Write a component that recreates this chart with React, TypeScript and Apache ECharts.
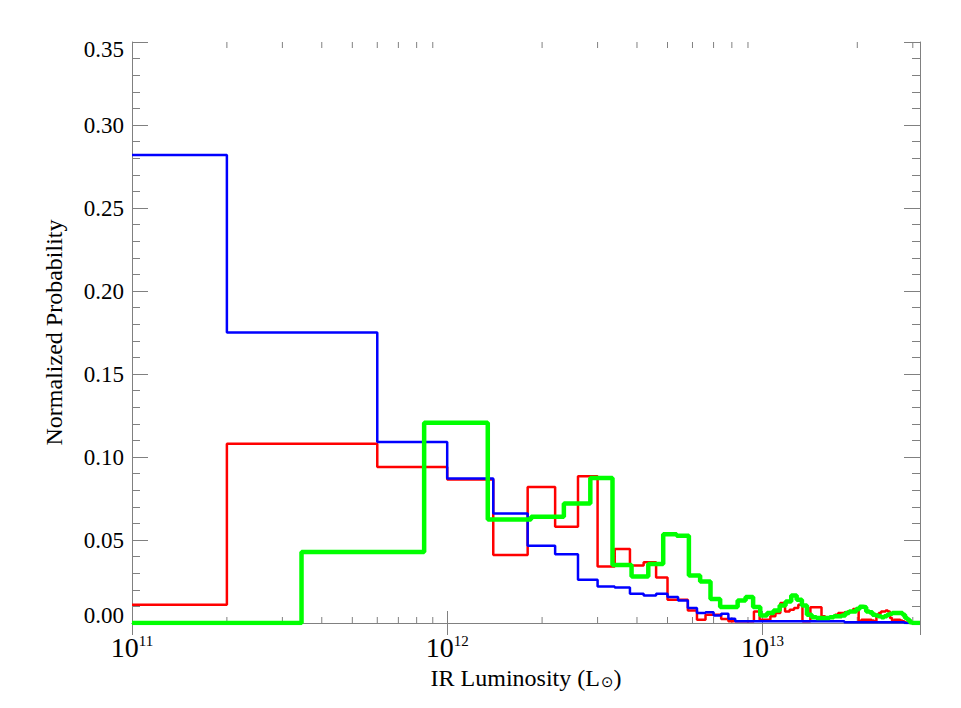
import React, { useEffect, useRef } from "react";
import * as echarts from "echarts";

// ---------- data ----------
const X_MIN = 1e11;
const X_MAX = Math.pow(10, 13.5);
const Y_MIN = 0;
const Y_MAX = 0.35;
const Y_INTERVAL = 0.05;

// red & blue histograms: linear bins of 0.4e12 starting at -0.2e12
const RB_BIN_START = -0.2e12;
const RB_BIN_WIDTH = 0.4e12;
// green histogram: linear bins of 0.5e12 starting at -0.155e12
const G_BIN_START = -0.155e12;
const G_BIN_WIDTH = 0.5e12;

const redValues = [
  0.011, 0.108, 0.094, 0.0864, 0.041, 0.082, 0.058, 0.0884, 0.034, 0.0446,
  0.0346, 0.0366, 0.0274, 0.014, 0.014, 0.0076, 0.002, 0.005, 0.005, 0.0024,
  0.001, 0.001, 0.001, 0.001, 0.007, 0.002, 0.002, 0.004, 0.006, 0.012,
  0.007, 0.008, 0.009, 0.011, 0.001, 0.001, 0.0095, 0.0095, 0.0095, 0.004,
  0.0035, 0.0035, 0.004, 0.005, 0.006, 0.006, 0.0065, 0.007, 0.007, 0.0084,
  0.008, 0.001, 0.002, 0.002, 0.002, 0.002, 0.0015, 0.001, 0.005, 0.006,
  0.007, 0.007, 0.0075, 0.007, 0.003, 0.001, 0.002, 0.002, 0.002, 0.0015,
  0.001, 0.0005, 0, 0, 0, 0, 0, 0, 0, 0,
];

const blueValues = [
  0.282, 0.175, 0.109, 0.087, 0.066, 0.0466, 0.0414, 0.026, 0.022, 0.0214,
  0.0176, 0.0166, 0.0176, 0.0156, 0.0136, 0.009, 0.006, 0.0065, 0.0045, 0.0055,
  0.0025, 0.001, 0.001, 0.001, 0.001, 0.001, 0.001, 0.001, 0.001, 0.001,
  0.001, 0.001, 0.001, 0.001, 0.001, 0.001, 0.001, 0.001, 0.001, 0.001,
  0.001, 0.001, 0.001, 0.001, 0.001, 0.001, 0.0005, 0.0005, 0.0005, 0.0005,
  0.0005, 0.0005, 0.0005, 0.0005, 0.0005, 0.0005, 0.0005, 0.0005, 0.0005, 0.0005,
  0.0005, 0.0005, 0.0005, 0.0005, 0.0005, 0.0005, 0.0005, 0.0005, 0.0005, 0.0005,
  0.0005, 0, 0, 0, 0, 0, 0, 0, 0, 0,
];

const greenValues = [
  0, 0.0428, 0.1206, 0.0624, 0.064, 0.072, 0.0874, 0.035, 0.028, 0.0356,
  0.0534, 0.0526, 0.0286, 0.025, 0.0144, 0.0096, 0.0096, 0.0136, 0.0156, 0.0096,
  0.0045, 0.006, 0.0075, 0.0105, 0.013, 0.0165, 0.014, 0.0105, 0.005, 0.0035,
  0.003, 0.003, 0.003, 0.0035, 0.004, 0.004, 0.0045, 0.006, 0.007, 0.007,
  0.0085, 0.0098, 0.0095, 0.007, 0.0065, 0.005, 0.0045, 0.004, 0.0035, 0.004,
  0.005, 0.0055, 0.006, 0.006, 0.006, 0.006, 0.005, 0.003, 0.002, 0.0005,
  0, 0, 0, 0,
];

const xTickExponents = [11, 12, 13];
const minorMultipliers = [2, 3, 4, 5, 6, 7, 8, 9];

const xAxisTitle = "IR Luminosity (L";
const sunSymbol = "\u2299";
const yAxisTitle = "Normalized Probability";

// ---------- style ----------
const AXIS_COLOR = "#808080";
const FONT = "'Liberation Serif', 'Times New Roman', serif";

function stepPoints(start: number, width: number, values: number[]) {
  const pts: number[][] = [];
  values.forEach((v, i) => {
    const lo = start + i * width;
    if (lo >= X_MAX) return;
    pts.push([Math.max(lo, X_MIN), v]);
  });
  const end = Math.min(start + values.length * width, X_MAX);
  pts.push([end, values[values.length - 1]]);
  return pts;
}

function minorTickValues() {
  const out: number[][] = [];
  xTickExponents.forEach((e) => {
    minorMultipliers.forEach((m) => {
      const v = m * Math.pow(10, e);
      if (v > X_MIN && v < X_MAX) out.push([v, 0]);
    });
  });
  return out;
}

export default function App() {
  const ref = useRef<HTMLDivElement>(null);

  useEffect(() => {
    if (!ref.current) return;
    const chart = echarts.init(ref.current, undefined, { renderer: "svg" });

    const yAxisCommon = {
      type: "value",
      min: Y_MIN,
      max: Y_MAX,
      interval: Y_INTERVAL,
      splitLine: { show: false },
      axisLine: { show: true, lineStyle: { color: AXIS_COLOR, width: 1 } },
      axisTick: { show: true, inside: true, length: 16, lineStyle: { color: AXIS_COLOR } },
      minorTick: { show: true, splitNumber: 5, length: 8, lineStyle: { color: AXIS_COLOR } },
    };

    const xAxisCommon = {
      type: "log",
      logBase: 10,
      min: X_MIN,
      max: X_MAX,
      splitLine: { show: false },
      minorTick: { show: false },
      axisLine: { show: true, lineStyle: { color: AXIS_COLOR, width: 1 } },
      axisTick: { show: true, inside: true, length: 12, lineStyle: { color: AXIS_COLOR } },
    };

    const option = {
      animation: false,
      grid: { left: 132, right: 41, top: 42, bottom: 85, show: false },
      xAxis: [
        {
          ...xAxisCommon,
          position: "bottom",
          name: `{n|${xAxisTitle}}{s|${sunSymbol}}{n|)}`,
          nameLocation: "middle",
          nameGap: 38,
          nameTextStyle: {
            rich: {
              n: { fontFamily: FONT, fontSize: 24, color: "#000", lineHeight: 26, verticalAlign: "bottom" },
              s: { fontFamily: "'DejaVu Sans', sans-serif", fontSize: 15, color: "#000", lineHeight: 15, verticalAlign: "bottom", padding: [0, 0, 0, 1] },
            },
          },
          axisLabel: {
            show: true,
            margin: 10,
            formatter: (v: number) => {
              const lg = Math.log10(v);
              const e = Math.round(lg);
              if (Math.abs(lg - e) > 0.01) return "";
              return `{b|10}{s|${e}}`;
            },
            rich: {
              b: { fontFamily: FONT, fontSize: 28, color: "#000", lineHeight: 28, verticalAlign: "bottom" },
              s: { fontFamily: FONT, fontSize: 15, color: "#000", lineHeight: 15, verticalAlign: "top" },
            },
          },
        },
        {
          ...xAxisCommon,
          position: "top",
          axisLabel: { show: false },
        },
      ],
      yAxis: [
        {
          ...yAxisCommon,
          position: "left",
          name: yAxisTitle,
          nameLocation: "middle",
          nameGap: 66,
          nameTextStyle: { fontFamily: FONT, fontSize: 24, color: "#000" },
          axisLabel: {
            show: true,
            margin: 8,
            formatter: (v: number) => {
              const t = v.toFixed(2);
              if (Math.abs(v - Y_MIN) < 1e-9) return `{lo|${t}}`;
              if (Math.abs(v - Y_MAX) < 1e-9) return `{hi|${t}}`;
              return `{n|${t}}`;
            },
            rich: {
              n: { fontFamily: FONT, fontSize: 23, color: "#000" },
              lo: { fontFamily: FONT, fontSize: 23, color: "#000", padding: [0, 0, 16, 0] },
              hi: { fontFamily: FONT, fontSize: 23, color: "#000", padding: [14, 0, 0, 0] },
            },
          },
        },
        {
          ...yAxisCommon,
          position: "right",
          axisLabel: { show: false },
        },
      ],
      series: [
        {
          name: "minor ticks",
          type: "custom",
          xAxisIndex: 0,
          yAxisIndex: 0,
          silent: true,
          clip: false,
          data: minorTickValues(),
          encode: { x: 0, y: 1 },
          renderItem: (_params: any, api: any) => {
            const v = api.value(0);
            const b = api.coord([v, Y_MIN]);
            const t = api.coord([v, Y_MAX]);
            const style = { stroke: AXIS_COLOR, lineWidth: 1 };
            return {
              type: "group",
              children: [
                { type: "line", shape: { x1: b[0], y1: b[1], x2: b[0], y2: b[1] - 6 }, style },
                { type: "line", shape: { x1: t[0], y1: t[1], x2: t[0], y2: t[1] + 6 }, style },
              ],
            };
          },
        },
        {
          name: "red",
          type: "line",
          step: "end",
          symbol: "none",
          xAxisIndex: 0,
          yAxisIndex: 0,
          lineStyle: { color: "#ff0000", width: 2.5 },
          data: stepPoints(RB_BIN_START, RB_BIN_WIDTH, redValues),
        },
        {
          name: "blue",
          type: "line",
          step: "end",
          symbol: "none",
          xAxisIndex: 0,
          yAxisIndex: 0,
          lineStyle: { color: "#0000ff", width: 2.5 },
          data: stepPoints(RB_BIN_START, RB_BIN_WIDTH, blueValues),
        },
        {
          name: "green",
          type: "line",
          step: "end",
          symbol: "none",
          xAxisIndex: 0,
          yAxisIndex: 0,
          lineStyle: { color: "#00ff00", width: 4.5 },
          data: stepPoints(G_BIN_START, G_BIN_WIDTH, greenValues),
        },
      ],
    };

    chart.setOption(option as any);
    return () => chart.dispose();
  }, []);

  return (
    <div
      ref={ref}
      style={{ position: "absolute", left: 0, top: 0, width: 961, height: 708, background: "#fff" }}
    />
  );
}
